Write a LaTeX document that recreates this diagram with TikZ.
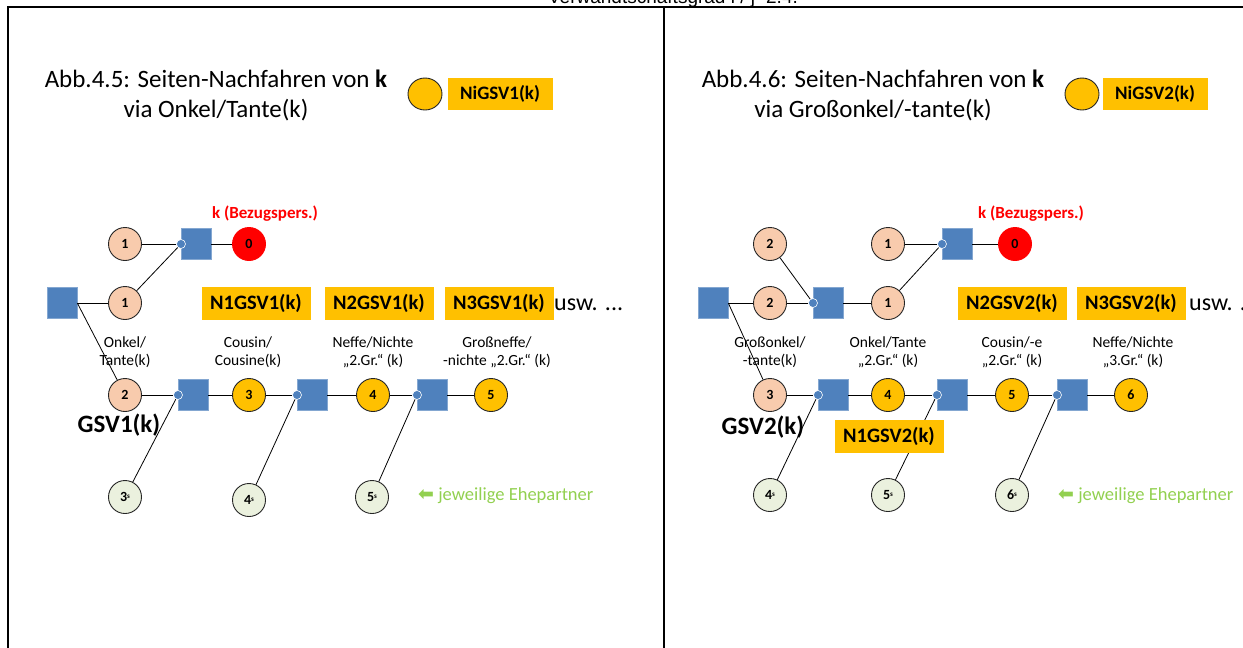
\documentclass[tikz,border=0pt]{standalone}
\usepackage{fontspec}
\usetikzlibrary{shapes.geometric}
\setmainfont{Carlito}
\newfontfamily\arialf{Liberation Sans}
\newfontfamily\dejavuf{DejaVu Sans}
\definecolor{peachc}{HTML}{F8CBAD}
\definecolor{goldc}{HTML}{FFC000}
\definecolor{sqblue}{HTML}{4F81BD}
\definecolor{spc}{HTML}{EBF1DE}
\definecolor{greenc}{HTML}{92D050}
\newcommand{\sps}[1]{#1\raisebox{3pt}{\fontsize{7}{7}\selectfont s}}
\tikzset{
  pers/.style={circle, draw=black!85, line width=0.9pt, minimum size=33pt, inner sep=0pt, font=\bfseries\fontsize{14}{14}\selectfont},
  peach/.style={pers, fill=peachc},
  goldn/.style={pers, fill=goldc},
  redn/.style={pers, fill=red, draw=red},
  spn/.style={pers, fill=spc},
  legn/.style={ellipse, draw=black!85, line width=0.9pt, fill=goldc, minimum width=34pt, minimum height=32pt, inner sep=0pt},
  sqn/.style={rectangle, fill=sqblue, draw=sqblue!70!white, line width=0.6pt, minimum width=30pt, minimum height=31pt, inner sep=0pt},
  dotn/.style={circle, fill=sqblue, draw=white, line width=0.6pt, minimum size=9pt, inner sep=0pt},
  tag/.style={fill=goldc, inner sep=0pt, minimum width=109pt, minimum height=33pt, font=\bfseries\fontsize{20.5}{20.5}\selectfont},
  smalltag/.style={fill=goldc, inner sep=0pt, minimum width=105pt, minimum height=32pt, font=\bfseries\fontsize{19}{19}\selectfont},
  rel/.style={align=center, inner sep=0pt, font=\fontsize{15.5}{18}\selectfont},
  title/.style={align=center, inner sep=0pt, font=\fontsize{25}{30}\selectfont},
  refk/.style={text=red, inner sep=0pt, font=\bfseries\fontsize{17}{17}\selectfont},
  gsv/.style={inner sep=0pt, font=\bfseries\fontsize{25}{25}\selectfont},
  usw/.style={inner sep=0pt, anchor=west, font=\fontsize{24}{24}\selectfont},
  ehe/.style={inner sep=0pt, anchor=west, text=greenc, font=\fontsize{18.5}{18.5}\selectfont},
  conn/.style={draw=black, line width=0.8pt},
  frame/.style={draw=black, line width=2pt}
}
\begin{document}
\begin{tikzpicture}[x=1pt,y=-1pt]
\useasboundingbox (0,0) rectangle (1243,648);
% top caption (cut off at the page edge as in the source)
\node[inner sep=0pt, anchor=base, font=\arialf\fontsize{19}{19}\selectfont] (topcap) at (673,3) {Verwandtschaftsgrad i / j=2.4.};
% frame
\coordinate (fTL) at (8,7); \coordinate (fTR) at (1243,7);
\coordinate (fBL) at (8,648); \coordinate (fMT) at (664,7); \coordinate (fMB) at (664,648);
\draw[frame] (fTR) -- (fTL) -- (fBL);
\draw[frame] (fMT) -- (fMB);

%================ LEFT PANEL =================
\node[title] (t1) at (216,95) {Abb.4.5: Seiten-Nachfahren von \textbf{k}\\via Onkel/Tante(k)};
\node[legn] (lg1) at (425,94) {};
\node[smalltag] (lt1) at (500,94) {NiGSV1(k)};

\node[refk] (kL) at (265,214) {k (Bezugspers.)};
\node[peach] (c1a) at (125,244) {1};
\node[sqn] (sq1) at (196,244) {};
\node[dotn] (d1) at (181,244) {};
\node[redn] (c0) at (249,244) {0};
\node[sqn] (sq0) at (62,303) {};
\node[peach] (c1b) at (125,303) {1};

\node[tag] (n1L) at (256,303) {N1GSV1(k)};
\node[tag] (n2L) at (379,303) {N2GSV1(k)};
\node[tag] (n3L) at (499,303) {N3GSV1(k)};
\node[usw] (uswL) at (554,305) {usw. ...};

\node[rel] (rl1) at (125,352) {Onkel/\\Tante(k)};
\node[rel] (rl2) at (248,352) {Cousin/\\Cousine(k)};
\node[rel] (rl3) at (373,352) {Neffe/Nichte\\„2.Gr.“ (k)};
\node[rel] (rl4) at (497,352) {Großneffe/\\-nichte „2.Gr.“ (k)};

\node[peach] (c2) at (125,395) {2};
\node[sqn] (sqA) at (193,395) {};
\node[dotn] (dA) at (178,395) {};
\node[goldn] (c3) at (249,395) {3};
\node[sqn] (sqB) at (312,395) {};
\node[dotn] (dB) at (297,395) {};
\node[goldn] (c4) at (373,395) {4};
\node[sqn] (sqC) at (432,395) {};
\node[dotn] (dC) at (417,395) {};
\node[goldn] (c5) at (491,395) {5};
\node[gsv] (gL) at (119,425) {GSV1(k)};

\node[spn] (s3) at (125,497) {\sps{3}};
\node[spn] (s4) at (249,500) {\sps{4}};
\node[spn] (s5) at (372,497) {\sps{5}};
\node[ehe] (eL) at (418,496) {{\dejavuf\bfseries\fontsize{19}{19}\selectfont ⬅} jeweilige Ehepartner};

\draw[conn] (c1a) -- (d1);
\draw[conn] (sq1) -- (c0);
\draw[conn] (d1) -- (c1b);
\draw[conn] (sq0.east) -- (c1b);
\draw[conn] (sq0.east) -- (c2);
\draw[conn] (c2) -- (dA);
\draw[conn] (sqA) -- (c3);
\draw[conn] (c3) -- (dB);
\draw[conn] (sqB) -- (c4);
\draw[conn] (c4) -- (dC);
\draw[conn] (sqC) -- (c5);
\draw[conn] (dA) -- (s3);
\draw[conn] (dB) -- (s4);
\draw[conn] (dC) -- (s5);

%================ RIGHT PANEL =================
\node[title] (t2) at (873,95) {Abb.4.6: Seiten-Nachfahren von \textbf{k}\\via Großonkel/-tante(k)};
\node[legn] (lg2) at (1082,94) {};
\node[smalltag] (lt2) at (1155,94) {NiGSV2(k)};

\node[refk] (kR) at (1031,214) {k (Bezugspers.)};
\node[peach] (r2a) at (770,244) {2};
\node[peach] (r1a) at (888,244) {1};
\node[sqn] (rsq1) at (957,244) {};
\node[dotn] (rd1) at (942,244) {};
\node[redn] (r0) at (1015,244) {0};
\node[sqn] (rsq0) at (713,303) {};
\node[peach] (r2b) at (770,303) {2};
\node[sqn] (rsq2) at (828,303) {};
\node[dotn] (rd2) at (813,303) {};
\node[peach] (r1b) at (888,303) {1};

\node[tag] (n2R) at (1012,303) {N2GSV2(k)};
\node[tag] (n3R) at (1131,303) {N3GSV2(k)};
\node[usw] (uswR) at (1189,305) {usw. ...};

\node[rel] (rr1) at (770,352) {Großonkel/\\-tante(k)};
\node[rel] (rr2) at (888,352) {Onkel/Tante\\„2.Gr.“ (k)};
\node[rel] (rr3) at (1012,352) {Cousin/-e\\„2.Gr.“ (k)};
\node[rel] (rr4) at (1133,352) {Neffe/Nichte\\„3.Gr.“ (k)};

\node[peach] (r3) at (770,395) {3};
\node[sqn] (rsqA) at (833,395) {};
\node[dotn] (rdA) at (818,395) {};
\node[goldn] (r4) at (888,395) {4};
\node[sqn] (rsqB) at (952,395) {};
\node[dotn] (rdB) at (937,395) {};
\node[goldn] (r5) at (1012,395) {5};
\node[sqn] (rsqC) at (1072,395) {};
\node[dotn] (rdC) at (1057,395) {};
\node[goldn] (r6) at (1131,395) {6};
\node[gsv] (gR) at (763,427) {GSV2(k)};

\node[spn] (rs4) at (770,495) {\sps{4}};
\node[spn] (rs5) at (888,495) {\sps{5}};
\node[spn] (rs6) at (1012,495) {\sps{6}};
\node[ehe] (eR) at (1058,496) {{\dejavuf\bfseries\fontsize{19}{19}\selectfont ⬅} jeweilige Ehepartner};

\draw[conn] (r1a) -- (rd1);
\draw[conn] (rsq1) -- (r0);
\draw[conn] (rd1) -- (r1b);
\draw[conn] (r2a) -- (rd2);
\draw[conn] (r2b) -- (rd2);
\draw[conn] (rsq2) -- (r1b);
\draw[conn] (rsq0.east) -- (r2b);
\draw[conn] (rsq0.east) -- (r3);
\draw[conn] (r3) -- (rdA);
\draw[conn] (rsqA) -- (r4);
\draw[conn] (r4) -- (rdB);
\draw[conn] (rsqB) -- (r5);
\draw[conn] (r5) -- (rdC);
\draw[conn] (rsqC) -- (r6);
\draw[conn] (rdA) -- (rs4);
\draw[conn] (rdB) -- (rs5);
\draw[conn] (rdC) -- (rs6);

\node[tag] (n1R) at (889,436) {N1GSV2(k)};
\end{tikzpicture}
\end{document}
